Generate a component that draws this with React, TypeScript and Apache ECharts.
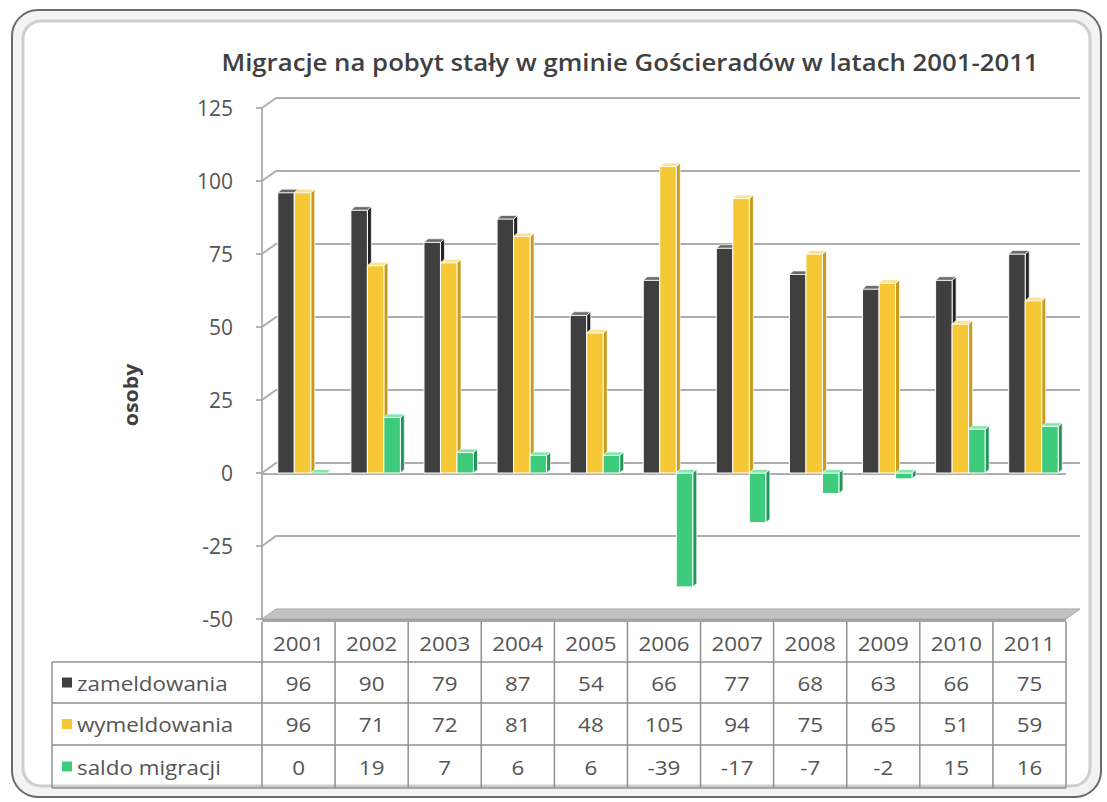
import React, { useEffect, useRef } from "react";
import * as echarts from "echarts";

const years = ["2001", "2002", "2003", "2004", "2005", "2006", "2007", "2008", "2009", "2010", "2011"];
const zameldowania = [96, 90, 79, 87, 54, 66, 77, 68, 63, 66, 75];
const wymeldowania = [96, 71, 72, 81, 48, 105, 94, 75, 65, 51, 59];
const saldoMigracji = [0, 19, 7, 6, 6, -39, -17, -7, -2, 15, 16];
const seriesNames = ["zameldowania", "wymeldowania", "saldo migracji"];
const yTicks = [-50, -25, 0, 25, 50, 75, 100, 125];
const titleText = "Migracje na pobyt stały w gminie Gościeradów w latach 2001-2011";
const yAxisName = "osoby";

const W = 1107;
const H = 802;
const G = { left: 262, right: 1066, top: 108, bottom: 619 };
const DX = 14;
const DY = -10;
const BAR_W = 16.5;
const OFFSETS = [-12.5, 4, 20.5];
const BDX = 4;
const BDY = -3.5;
const FONT = "'Open Sans', 'Noto Sans', sans-serif";
const TXT = "#555555";
const COLORS = [
  { front: "#3f3f3f", side: "#232323", top: "#6a6a6a" },
  { front: "#f7c836", side: "#c79c1c", top: "#fde38e" },
  { front: "#3ecb7c", side: "#22965a", top: "#86e6ae" },
];

function makeBarRender(si: number) {
  return (params: any, api: any) => {
    const cat = api.value(0);
    const v = api.value(1);
    const pT = api.coord([cat, Math.max(v, 0)]);
    const pB = api.coord([cat, Math.min(v, 0)]);
    const cx = pT[0] + OFFSETS[si];
    const x0 = cx - BAR_W / 2;
    const x1 = cx + BAR_W / 2;
    const yT = pT[1];
    const yB = pB[1];
    const c = COLORS[si];
    const children: any[] = [];
    if (yB - yT > 0.5) {
      children.push({
        type: "polygon",
        shape: { points: [[x1, yT], [x1 + BDX, yT + BDY], [x1 + BDX, yB + BDY], [x1, yB]] },
        style: { fill: c.side, stroke: "#ffffff", lineWidth: 0.7 },
      });
      children.push({
        type: "rect",
        shape: { x: x0, y: yT, width: BAR_W, height: yB - yT },
        style: { fill: c.front, stroke: "#ffffff", lineWidth: 1 },
      });
    }
    children.push({
      type: "polygon",
      shape: { points: [[x0, yT], [x0 + BDX, yT + BDY], [x1 + BDX, yT + BDY], [x1, yT]] },
      style: { fill: c.top, stroke: "#ffffff", lineWidth: 0.7 },
    });
    return { type: "group", children };
  };
}

function gridRender(params: any, api: any) {
  const v = api.value(1);
  const p = api.coord([0, v]);
  const y = p[1];
  const x = params.coordSys.x;
  const w = params.coordSys.width;
  const children: any[] = [];
  if (v === yTicks[0]) {
    children.push({
      type: "polygon",
      shape: { points: [[x, y], [x + DX, y + DY], [x + w + DX, y + DY], [x + w, y]] },
      style: { fill: "#c2c2c2", stroke: "#a5a5a5", lineWidth: 1 },
    });
    children.push({
      type: "rect",
      shape: { x: x, y: y, width: w, height: 3 },
      style: { fill: "#a3a3a3" },
    });
  } else {
    children.push({
      type: "polyline",
      shape: { points: [[x, y], [x + DX, y + DY], [x + w + DX, y + DY]] },
      style: { stroke: "#adadad", lineWidth: 2, fill: "none" },
    });
    if (v === 0) {
      children.push({
        type: "line",
        shape: { x1: x, y1: y + 1, x2: x + w, y2: y + 1 },
        style: { stroke: "#adadad", lineWidth: 2 },
      });
    }
  }
  return { type: "group", children };
}

function buildGraphic() {
  const els: any[] = [];
  els.push({
    type: "rect",
    z: -20,
    shape: { x: 12, y: 10, width: 1089, height: 787, r: 26 },
    style: { fill: "#f3f3f3", stroke: "#6a6a6a", lineWidth: 2 },
  });
  els.push({
    type: "rect",
    z: -19,
    shape: { x: 23, y: 21, width: 1067, height: 765, r: 18 },
    style: { fill: "#ffffff", stroke: "#cdcdcd", lineWidth: 3 },
  });
  els.push({
    type: "text",
    x: 630,
    y: 62,
    scaleX: 1.12,
    style: {
      text: titleText,
      x: 0,
      y: 0,
      align: "center",
      verticalAlign: "middle",
      fill: "#404040",
      font: `600 23px ${FONT}`,
    },
  });
  els.push({
    type: "text",
    x: 130,
    y: 395,
    rotation: Math.PI / 2,
    scaleX: 1.12,
    style: {
      text: yAxisName,
      x: 0,
      y: 0,
      align: "center",
      verticalAlign: "middle",
      fill: "#404040",
      font: `bold 19px ${FONT}`,
    },
  });
  // table
  const cw = (G.right - G.left) / years.length;
  const rowY = [622, 662, 703, 745, 788];
  const lc = "#8f8f8f";
  for (let k = 0; k <= years.length; k++) {
    const x = G.left + k * cw;
    els.push({ type: "line", shape: { x1: x, y1: rowY[0], x2: x, y2: rowY[4] }, style: { stroke: lc, lineWidth: 1.5 } });
  }
  els.push({ type: "line", shape: { x1: 52, y1: rowY[1], x2: 52, y2: rowY[4] }, style: { stroke: lc, lineWidth: 1.5 } });
  for (let r = 1; r < rowY.length; r++) {
    els.push({ type: "line", shape: { x1: 52, y1: rowY[r], x2: G.right, y2: rowY[r] }, style: { stroke: lc, lineWidth: 1.5 } });
  }
  const tFont = `20px ${FONT}`;
  const SX = 1.12;
  years.forEach((yr, i) => {
    els.push({
      type: "text",
      x: G.left + (i + 0.5) * cw,
      y: (rowY[0] + rowY[1]) / 2 + 1,
      scaleX: SX,
      style: { text: yr, x: 0, y: 0, align: "center", verticalAlign: "middle", fill: TXT, font: tFont },
    });
  });
  const allVals = [zameldowania, wymeldowania, saldoMigracji];
  allVals.forEach((vals, si) => {
    const cy = (rowY[si + 1] + rowY[si + 2]) / 2;
    els.push({
      type: "rect",
      shape: { x: 62, y: cy - 5, width: 10, height: 10 },
      style: { fill: COLORS[si].front },
    });
    els.push({
      type: "text",
      x: 77,
      y: cy,
      scaleX: SX,
      style: { text: seriesNames[si], x: 0, y: 0, align: "left", verticalAlign: "middle", fill: TXT, font: tFont },
    });
    vals.forEach((v, i) => {
      els.push({
        type: "text",
        x: G.left + (i + 0.5) * cw,
        y: cy,
        scaleX: SX,
        style: { text: String(v), x: 0, y: 0, align: "center", verticalAlign: "middle", fill: TXT, font: tFont },
      });
    });
  });
  return els;
}

export default function App() {
  const ref = useRef<HTMLDivElement>(null);
  useEffect(() => {
    if (!ref.current) return;
    const chart = echarts.init(ref.current, undefined, { renderer: "svg" });
    const allVals = [zameldowania, wymeldowania, saldoMigracji];
    chart.setOption({
      animation: false,
      backgroundColor: "#ffffff",
      grid: { left: G.left, right: W - G.right, top: G.top, bottom: H - G.bottom, containLabel: false },
      xAxis: {
        type: "category",
        data: years,
        boundaryGap: true,
        axisLine: { show: false },
        axisTick: { show: false },
        axisLabel: { show: false },
        splitLine: { show: false },
      },
      yAxis: {
        type: "value",
        min: -50,
        max: 125,
        interval: 25,
        axisLine: { show: true, lineStyle: { color: "#9a9a9a", width: 1.5 } },
        axisTick: { show: true, length: 6, lineStyle: { color: "#9a9a9a", width: 1.5 } },
        axisLabel: { margin: 29, fontFamily: FONT, fontSize: 21, color: TXT },
        splitLine: { show: false },
      },
      graphic: buildGraphic(),
      series: [
        {
          type: "custom",
          name: "grid",
          z: 1,
          silent: true,
          renderItem: gridRender,
          encode: { x: 0, y: 1 },
          data: yTicks.map((v) => [0, v]),
        },
        ...allVals.map((vals, si) => ({
          type: "custom",
          name: seriesNames[si],
          z: 3 + si,
          renderItem: makeBarRender(si),
          encode: { x: 0, y: 1 },
          data: vals.map((v, i) => [i, v]),
        })),
      ],
    });
    return () => chart.dispose();
  }, []);
  return <div ref={ref} style={{ position: "absolute", left: 0, top: 0, width: W, height: H }} />;
}
